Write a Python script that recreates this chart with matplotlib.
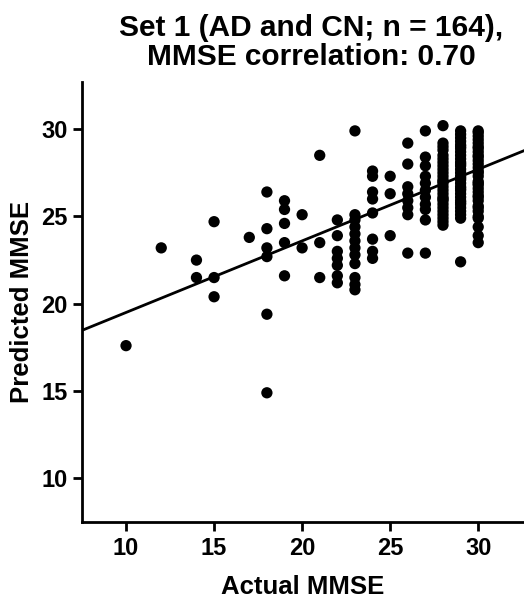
import matplotlib
matplotlib.use("Agg")
import matplotlib.pyplot as plt
import numpy as np

plt.rcParams['font.family'] = ['Liberation Sans', 'DejaVu Sans']
plt.rcParams['font.weight'] = 'bold'

# Predicted MMSE values grouped by actual MMSE score
pred_10 = [17.6]
pred_12 = [23.2]
pred_14 = [22.5, 21.5]
pred_15 = [24.7, 21.5, 20.4]
pred_17 = [23.8]
pred_18 = [26.4, 24.3, 23.2, 22.7, 19.4, 14.9]
pred_19 = [25.9, 25.4, 24.6, 23.5, 21.6]
pred_20 = [25.1, 23.2]
pred_21 = [28.5, 23.5, 21.5]
pred_22 = [24.8, 23.9, 23.0, 22.6, 22.2, 21.6, 21.2]
pred_23 = [29.9, 25.1, 24.8, 24.4, 24.0, 23.6, 23.2, 22.8, 22.3, 21.5, 21.1, 20.8]
pred_24 = [27.6, 27.3, 26.4, 26.0, 25.2, 23.7, 23.0, 22.6]
pred_25 = [27.3, 26.3, 23.9]
pred_26 = [29.2, 28.0, 26.7, 26.3, 25.9, 25.5, 25.1, 22.9]
pred_27 = [29.9, 28.4, 27.9, 27.3, 26.9, 26.5, 26.1, 25.7, 25.4, 24.8, 22.9]
pred_28 = [30.2, 29.2, 29.0, 28.8, 28.5, 28.3, 28.1, 27.9, 27.7, 27.5, 27.3,
           27.1, 26.9, 26.7, 26.5, 26.3, 26.1, 25.9, 25.7, 25.5, 25.3, 25.1,
           24.9, 24.7, 24.5, 27.0, 26.0]
pred_29 = [29.9, 29.7, 29.5, 29.3, 29.1, 28.9, 28.7, 28.5, 28.3, 28.1, 27.9,
           27.7, 27.5, 27.3, 27.1, 26.9, 26.7, 26.5, 26.3, 26.1, 25.9, 25.7,
           25.5, 25.3, 25.1, 24.9, 22.4, 28.0, 27.2, 26.6, 25.8, 29.0]
pred_30 = [29.8, 29.6, 29.4, 29.2, 29.0, 28.7, 28.5, 28.2, 28.0, 27.8, 27.6,
           27.3, 27.0, 26.8, 26.6, 26.4, 26.1, 25.9, 25.6, 25.3, 25.0, 24.9,
           24.4, 23.9, 23.5, 28.9, 27.5, 26.2, 29.9, 28.4, 26.9, 25.5]

groups = {10: pred_10, 12: pred_12, 14: pred_14, 15: pred_15, 17: pred_17,
          18: pred_18, 19: pred_19, 20: pred_20, 21: pred_21, 22: pred_22,
          23: pred_23, 24: pred_24, 25: pred_25, 26: pred_26, 27: pred_27,
          28: pred_28, 29: pred_29, 30: pred_30}

actual = []
predicted = []
for k, vals in groups.items():
    actual.extend([k] * len(vals))
    predicted.extend(vals)

# regression line
fit_slope = 0.41
fit_intercept = 15.4

x_ticks = [10, 15, 20, 25, 30]
y_ticks = [10, 15, 20, 25, 30]

fig = plt.figure(figsize=(5.24, 5.99), dpi=100)
ax = fig.add_axes([82/524, 77/599, 1 - 82/524, (522-82)/599])

ax.scatter(actual, predicted, s=66, color='black', edgecolors='none', zorder=3)

xlim = (7.5, 32.6)
xs = np.array(xlim)
ax.plot(xs, fit_intercept + fit_slope * xs, color='black', lw=2.0, zorder=2)

ax.set_xlim(*xlim)
ax.set_ylim(7.5, 32.7)
ax.set_xticks(x_ticks)
ax.set_yticks(y_ticks)
for side in ['top', 'right']:
    ax.spines[side].set_visible(False)
for side in ['left', 'bottom']:
    ax.spines[side].set_linewidth(2.0)
ax.tick_params(axis='both', direction='out', length=6.5, width=2.0,
               labelsize=17, pad=4)
for lab in ax.get_xticklabels() + ax.get_yticklabels():
    lab.set_fontweight('bold')

ax.set_xlabel('Actual MMSE', fontsize=18.5, fontweight='bold', labelpad=11)
ax.set_ylabel('Predicted MMSE', fontsize=18.5, fontweight='bold', labelpad=5)
fig.text(0.594, 0.977, 'Set 1 (AD and CN; n = 164),\nMMSE correlation: 0.70',
         ha='center', va='top', fontsize=21.5, fontweight='bold', linespacing=1.05)

fig.savefig('out.png', dpi=100)
